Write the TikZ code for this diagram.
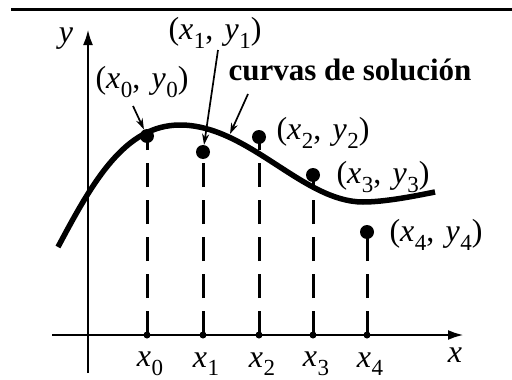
\documentclass[tikz,border=0pt]{standalone}
\usepackage{fontspec}
\setmainfont{Liberation Serif}
\usetikzlibrary{arrows.meta}
\newcommand\sbs[1]{\kern0.5pt\raisebox{-0.27em}{\fontsize{23}{23}\selectfont #1}}
\newcommand\ptlab[1]{(\textit{x}\sbs{#1},\hspace{0.35em}\textit{y}\sbs{#1})}
\begin{document}
\begin{tikzpicture}[x=1pt,y=-1pt,
  axis/.style={line width=2.8pt, -{Latex[length=16pt,width=10pt]}},
  curve/.style={line width=5.5pt},
  drop/.style={line width=3pt, dash pattern=on 24pt off 13pt},
  rule/.style={line width=3pt},
  pt/.style={circle, fill, inner sep=0pt, minimum size=14pt},
  tick/.style={circle, fill, inner sep=0pt, minimum size=7pt},
  lab/.style={font=\fontsize{32}{34}\selectfont, inner sep=0pt},
  blab/.style={font=\fontsize{31}{34}\selectfont\bfseries, inner sep=0pt},
  callout/.style={line width=1.7pt, -{Stealth[length=11pt,width=7pt]}}]
\useasboundingbox (0,0) rectangle (512,380);
% top rule
\coordinate (r1) at (11,9);
\coordinate (r2) at (512,9);
\draw[rule] (r1) -- (r2);
% axes
\coordinate (xs) at (52,335);
\coordinate (xe) at (464,335);
\coordinate (ys) at (88,373);
\coordinate (ye) at (88,29);
\draw[axis] (xs) -- (xe);
\draw[axis] (ys) -- (ye);
\node[lab] (ylab) at (66,39) {\textit{y}};
\node[lab] (xlab) at (455,355) {\textit{x}};
% ticks
\node[tick] (t0) at (147,335) {};
\node[tick] (t1) at (203,335) {};
\node[tick] (t2) at (259,335) {};
\node[tick] (t3) at (313,335) {};
\node[tick] (t4) at (367,335) {};
\node[lab] (x0) at (150,364) {\textit{x}\sbs0};
\node[lab] (x1) at (206,364) {\textit{x}\sbs1};
\node[lab] (x2) at (262,364) {\textit{x}\sbs2};
\node[lab] (x3) at (316,364) {\textit{x}\sbs3};
\node[lab] (x4) at (370,364) {\textit{x}\sbs4};
% curve
\coordinate (c0) at (58,247);
\coordinate (c1) at (180,125);
\coordinate (c2) at (363,202);
\coordinate (c3) at (435,192);
\draw[curve] (c0) .. controls (93,181) and (125,125) .. (c1)
  .. controls (248,125) and (303,202) .. (c2)
  .. controls (385,202) and (415,196) .. (c3);
% points
\node[pt] (p0) at (147,136) {};
\node[pt] (p1) at (203,152) {};
\node[pt] (p2) at (259,137) {};
\node[pt] (p3) at (313,175) {};
\node[pt] (p4) at (367,232) {};
% drop lines
\draw[drop] (t0.center) -- (p0.center);
\draw[drop] (t1.center) -- (p1.center);
\draw[drop] (t2.center) -- (p2.center);
\draw[drop] (t3.center) -- (p3.center);
\draw[drop] (t4.center) -- (p4.center);
% labels
\node[lab] (l0) at (142,82) {\ptlab0};
\node[lab] (l1) at (215,33) {\ptlab1};
\node[blab] (lc) at (350,70) {curvas de solución};
\node[lab] (l2) at (323,133) {\ptlab2};
\node[lab] (l3) at (383,177) {\ptlab3};
\node[lab] (l4) at (436,235) {\ptlab4};
% callouts
\coordinate (a0) at (133,106);
\coordinate (a1) at (218,50);
\coordinate (ac) at (248,94);
\coordinate (cc) at (230,134);
\draw[callout] (a0) -- (p0);
\draw[callout] (a1) -- (p1);
\draw[callout] (ac) -- (cc);
\end{tikzpicture}
\end{document}
